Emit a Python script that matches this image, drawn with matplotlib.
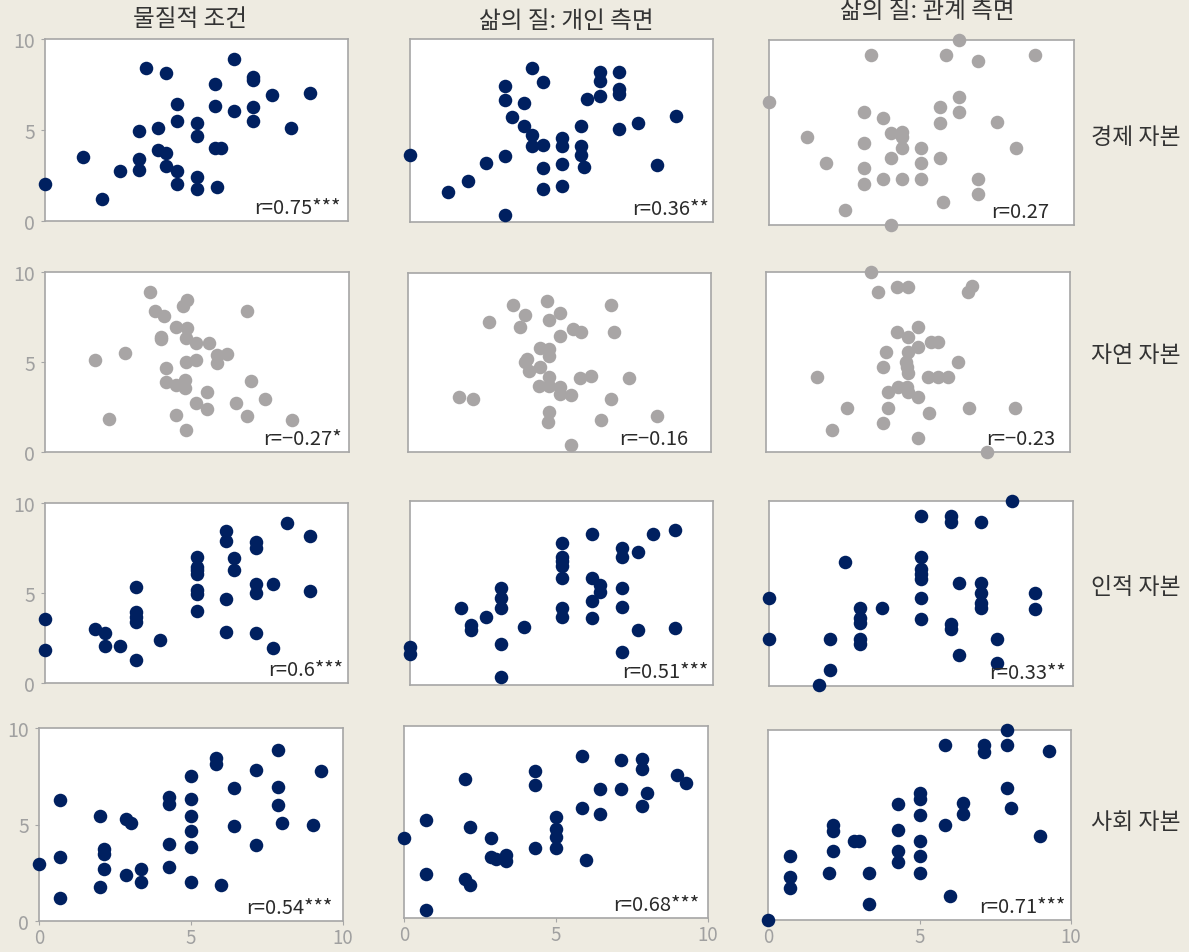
import matplotlib.pyplot as plt

plt.rcParams['font.family'] = ['Noto Sans CJK KR', 'DejaVu Sans']

col_titles = ['물질적 조건', '삶의 질: 개인 측면', '삶의 질: 관계 측면']
row_titles = ['경제 자본', '자연 자본', '인적 자본', '사회 자본']
r_labels = [['r=0.75***', 'r=0.36**', 'r=0.27'],
            ['r=\u22120.27*', 'r=\u22120.16', 'r=\u22120.23'],
            ['r=0.6***', 'r=0.51***', 'r=0.33**'],
            ['r=0.54***', 'r=0.68***', 'r=0.71***']]
significant = [[True, True, False],
               [False, False, False],
               [True, True, True],
               [True, True, True]]

# 경제 자본
econ_material_x = [0, 1.25, 1.87, 2.49, 3.11, 3.11, 3.11, 3.32, 3.74, 3.74, 3.98, 4.0, 3.98, 4.37, 4.37, 4.37, 4.37,
                   5.0, 5.0, 5.0, 5.0, 5.62, 5.62, 5.62, 5.81, 5.69, 6.24, 6.24, 6.87, 6.87, 6.87, 6.87, 7.48, 8.11, 8.74]
econ_material_y = [2.02, 3.54, 1.23, 2.72, 4.95, 3.39, 2.81, 8.4, 5.12, 3.91, 8.15, 3.74, 3.01, 6.42, 5.47, 2.75, 2.04,
                   5.36, 4.68, 2.44, 1.78, 7.52, 6.33, 4.0, 4.0, 1.89, 8.9, 6.06, 7.89, 7.76, 6.26, 5.5, 6.92, 5.12, 7.01]
econ_personal_x = [0, 1.27, 1.9, 2.52, 3.15, 3.15, 3.15, 3.15, 3.36, 3.77, 3.77, 4.02, 4.02, 4.02, 4.39, 4.39, 4.39, 4.39,
                   5.03, 5.03, 5.03, 5.03, 5.64, 5.64, 5.64, 5.73, 5.85, 6.27, 6.27, 6.27, 6.9, 6.9, 6.9, 6.9, 7.54, 8.15, 8.78]
econ_personal_y = [3.64, 1.64, 2.22, 3.24, 7.42, 6.69, 3.6, 0.4, 5.73, 6.51, 5.24, 8.4, 4.76, 4.15, 7.67, 4.22, 2.96, 1.82,
                   4.6, 4.15, 3.15, 1.98, 5.24, 4.18, 3.67, 3.0, 6.73, 8.22, 7.73, 6.91, 8.22, 7.27, 7.0, 5.09, 5.4, 3.09, 5.78]
econ_relation_x = [0, 1.25, 1.87, 2.5, 3.11, 3.11, 3.11, 3.11, 3.33, 3.74, 3.74, 3.99, 3.99, 3.99, 4.37, 4.37, 4.37, 4.37,
                   4.99, 4.99, 4.99, 5.62, 5.62, 5.62, 5.71, 5.81, 6.23, 6.23, 6.23, 6.85, 6.85, 6.85, 7.48, 8.11, 8.73]
econ_relation_y = [6.67, 4.73, 3.33, 0.83, 6.12, 4.42, 3.06, 2.23, 9.17, 5.81, 2.48, 5.0, 3.6, 0.0, 5.04, 4.73, 4.15, 2.48,
                   4.15, 3.33, 2.48, 6.38, 5.54, 3.6, 1.26, 9.17, 10.0, 6.92, 6.12, 8.87, 2.48, 1.67, 5.58, 4.15, 9.17]

# 자연 자본
nature_material_x = [1.66, 2.12, 2.64, 3.44, 3.63, 3.9, 3.82, 3.82, 3.98, 3.98, 4.31, 4.31, 4.31, 4.54, 4.67, 4.67, 4.65, 4.59,
                     4.59, 4.65, 4.65, 4.98, 4.98, 4.98, 5.34, 5.34, 5.4, 5.65, 5.65, 5.98, 6.28, 6.63, 6.63, 6.77, 7.23, 8.14]
nature_material_y = [5.11, 1.86, 5.48, 8.88, 7.81, 7.53, 6.41, 6.26, 4.65, 3.87, 6.97, 3.72, 2.04, 8.12, 8.42, 6.91, 6.36, 4.0,
                     3.53, 4.98, 1.21, 6.04, 5.11, 2.75, 3.35, 2.38, 6.04, 5.39, 4.93, 5.45, 2.75, 7.86, 2.0, 3.94, 2.97, 1.77]
nature_personal_x = [1.67, 2.15, 2.67, 3.47, 3.86, 3.68, 3.93, 3.87, 4.0, 4.35, 4.35, 4.33, 4.59, 4.66, 4.66, 4.66, 4.66, 4.64,
                     4.66, 4.62, 5.0, 5.0, 5.0, 5.0, 5.38, 5.38, 5.43, 5.71, 5.67, 6.04, 6.36, 6.69, 6.8, 6.69, 7.3, 8.23]
nature_personal_y = [3.07, 2.97, 7.25, 8.22, 7.66, 7.01, 5.2, 5.02, 4.55, 5.8, 4.74, 3.66, 8.42, 7.38, 5.76, 5.39, 4.18, 3.66,
                     2.23, 1.67, 7.75, 6.47, 3.62, 3.25, 3.16, 0.41, 6.88, 6.69, 4.14, 4.22, 1.8, 8.22, 6.73, 2.97, 4.14, 1.99]
nature_relation_x = [3.45, 3.67, 4.32, 4.66, 6.63, 6.77, 4.32, 4.99, 4.68, 5.42, 5.67, 3.95, 4.68, 4.99, 3.84, 4.6, 4.63, 4.66, 6.33,
                     1.67, 5.34, 5.67, 6.0, 4.0, 4.33, 4.63, 4.68, 4.99, 2.68, 4.0, 6.68, 8.19, 5.36, 3.84, 2.16, 4.99, 7.28]
nature_relation_y = [10.0, 8.91, 9.17, 9.17, 8.91, 9.23, 6.68, 6.96, 6.37, 6.13, 6.13, 5.57, 5.57, 5.81, 4.74, 5.02, 4.7, 4.39, 4.98,
                     4.15, 4.15, 4.15, 4.15, 3.32, 3.63, 3.63, 3.32, 3.04, 2.45, 2.45, 2.45, 2.45, 2.18, 1.62, 1.2, 0.79, 0.0]

# 인적 자본
human_material_x = [0, 0, 1.66, 1.99, 1.99, 2.49, 2.99, 2.99, 2.99, 2.99, 2.99, 3.78, 5.0, 5.0, 5.0, 5.0, 5.0, 5.0,
                    5.0, 5.99, 5.99, 5.99, 5.99, 6.24, 6.24, 6.98, 6.98, 6.98, 6.98, 6.98, 7.51, 7.51, 8.0, 8.76, 8.76]
human_material_y = [3.56, 1.84, 3.0, 2.76, 2.06, 2.06, 5.36, 3.93, 3.65, 3.38, 1.28, 2.41, 6.99, 6.47, 6.29, 6.07, 5.14, 4.95,
                    3.99, 8.44, 7.88, 4.68, 2.86, 6.94, 6.29, 7.83, 7.51, 5.51, 4.99, 2.78, 5.51, 1.93, 8.89, 8.14, 5.1]
human_personal_x = [0, 0, 1.68, 2.01, 2.01, 2.51, 3.0, 3.0, 3.0, 3.0, 3.0, 3.77, 5.02, 5.02, 5.02, 5.02, 5.02, 5.02,
                    5.02, 6.02, 6.02, 6.26, 6.26, 6.02, 6.02, 7.01, 7.01, 7.53, 7.01, 7.01, 7.01, 7.51, 8.02, 8.76, 8.76]
human_personal_y = [2.04, 1.67, 4.18, 3.27, 2.98, 3.67, 5.27, 4.73, 4.16, 2.25, 0.44, 3.16, 7.71, 6.95, 6.76, 6.49, 5.8, 4.16,
                    3.67, 8.22, 5.8, 5.45, 5.04, 4.58, 3.62, 7.45, 6.98, 7.25, 5.25, 4.22, 1.82, 3.0, 8.22, 8.44, 3.09]
human_relation_x = [0, 0, 1.65, 2.0, 2.0, 2.49, 2.99, 2.99, 2.99, 2.99, 2.99, 3.73, 5.0, 5.0, 5.0, 5.0, 5.0, 5.0,
                    5.0, 6.0, 6.0, 6.0, 6.0, 6.24, 6.24, 6.99, 6.99, 6.99, 6.99, 6.99, 7.5, 7.5, 8.0, 8.74, 8.74]
human_relation_y = [4.74, 2.52, 0.04, 2.52, 0.85, 6.7, 4.2, 3.69, 3.42, 2.56, 2.25, 4.2, 9.19, 6.97, 6.31, 6.04, 5.8, 4.74,
                    3.6, 9.19, 8.88, 3.33, 3.06, 5.55, 1.68, 8.88, 5.59, 5.01, 4.5, 4.23, 2.52, 1.26, 10.0, 5.01, 4.18]

# 사회 자본
social_material_x = [0, 0.7, 0.7, 0.7, 2.0, 2.14, 2.14, 2.14, 2.0, 2.85, 3.01, 2.85, 3.34, 3.34, 4.29, 4.29, 4.29, 4.29, 4.99,
                     4.99, 4.99, 4.99, 4.99, 4.99, 5.82, 5.82, 5.98, 6.43, 6.43, 7.13, 7.13, 7.85, 7.85, 7.85, 8.0, 9.0, 9.27]
social_material_y = [2.94, 6.26, 3.32, 1.18, 5.45, 3.75, 3.46, 2.72, 1.76, 5.31, 5.07, 2.37, 2.68, 2.02, 6.4, 6.06, 3.98, 2.8, 7.49,
                     6.31, 5.45, 4.64, 3.86, 2.02, 8.43, 8.13, 1.87, 6.89, 4.9, 7.84, 3.94, 8.86, 6.96, 6.02, 5.1, 4.97, 7.75]
social_personal_x = [0, 0.71, 0.71, 0.71, 2.0, 2.16, 2.0, 2.16, 2.85, 2.85, 3.02, 3.34, 3.34, 4.3, 4.3, 4.3, 5.0,
                     5.0, 5.0, 5.0, 5.85, 5.85, 6.0, 6.44, 6.44, 7.15, 7.15, 7.84, 7.84, 7.84, 8.0, 8.99, 9.29]
social_personal_y = [4.19, 5.1, 2.29, 0.43, 7.26, 4.75, 2.03, 1.73, 4.19, 3.19, 3.07, 3.28, 2.98, 7.66, 6.93, 3.64, 5.27,
                     4.63, 4.23, 3.67, 8.44, 5.75, 3.03, 6.71, 5.44, 8.23, 6.74, 8.27, 7.75, 5.81, 6.5, 7.44, 7.02]
social_relation_x = [0, 0.71, 0.71, 0.71, 2.0, 2.14, 2.14, 2.14, 2.85, 3.01, 3.34, 3.34, 4.29, 4.29, 4.29, 4.29, 5.0, 5.0,
                     5.0, 5.0, 5.0, 5.0, 5.85, 5.85, 6.01, 6.43, 6.43, 7.14, 7.14, 7.88, 7.88, 7.88, 8.01, 8.98, 9.29]
social_relation_y = [0, 3.38, 2.24, 1.66, 2.5, 4.99, 4.69, 3.64, 4.17, 4.17, 2.5, 0.84, 6.09, 4.73, 3.64, 3.06, 6.71, 6.36,
                     5.53, 4.17, 3.35, 2.5, 9.19, 4.99, 1.24, 6.15, 5.57, 9.19, 8.86, 10.0, 9.19, 6.94, 5.87, 4.43, 8.9]

panels = [[(econ_material_x, econ_material_y), (econ_personal_x, econ_personal_y), (econ_relation_x, econ_relation_y)],
          [(nature_material_x, nature_material_y), (nature_personal_x, nature_personal_y), (nature_relation_x, nature_relation_y)],
          [(human_material_x, human_material_y), (human_personal_x, human_personal_y), (human_relation_x, human_relation_y)],
          [(social_material_x, social_material_y), (social_personal_x, social_personal_y), (social_relation_x, social_relation_y)]]

# panel boxes in pixels: left, top, right, bottom
boxes = [[(45, 40, 348, 222), (410, 40, 713, 223), (769, 41, 1074, 226)],
         [(45, 273, 349, 453), (408, 274, 711, 453), (766, 273, 1070, 453)],
         [(45, 504, 348, 684), (410, 502, 713, 686), (769, 502, 1073, 687)],
         [(39, 729, 343, 922), (404, 727, 708, 919), (768, 731, 1071, 921)]]
label_xpos = [[0.975, 0.985, 0.92], [0.975, 0.925, 0.95], [0.985, 0.985, 0.975], [0.965, 0.97, 0.98]]

W, H = 1189, 953
bg = '#EEEBE1'
navy = '#002060'
grey = '#A8A5A5'

fig = plt.figure(figsize=(W / 100, H / 100), dpi=100, facecolor=bg)

for i in range(4):
    for j in range(3):
        l, t, r, b = boxes[i][j]
        ax = fig.add_axes([l / W, 1 - b / H, (r - l) / W, (b - t) / H])
        ax.set_facecolor('white')
        xs, ys = panels[i][j]
        ax.scatter(xs, ys, s=95, color=navy if significant[i][j] else grey,
                   linewidths=0, clip_on=False, zorder=5)
        ax.set_xlim(0, 10)
        ax.set_ylim(0, 10)
        for sp in ax.spines.values():
            sp.set_color('#A6A6A6')
            sp.set_linewidth(1.2)
        ax.set_xticks([0, 5, 10])
        ax.set_yticks([0, 5, 10])
        ax.tick_params(colors='#A6A6A6', labelcolor='#A0A0A0', labelsize=14, length=3, pad=4)
        if j != 0:
            ax.tick_params(axis='y', left=False, labelleft=False)
        if i != 3:
            ax.tick_params(axis='x', bottom=False, labelbottom=False)
        else:
            ax.tick_params(axis='x', pad=1, labelsize=13.5)
        ax.text(label_xpos[i][j], 0.015, r_labels[i][j], transform=ax.transAxes,
                ha='right', va='bottom', fontsize=14.5, color='#2A2A2A', zorder=6)

title_pos = [(190, 19), (566, 21), (927, 12)]
for (x, y), txt in zip(title_pos, col_titles):
    fig.text(x / W, 1 - y / H, txt, ha='center', va='center', fontsize=17, color='#333333')

row_pos = [137, 356, 588, 823]
for y, txt in zip(row_pos, row_titles):
    fig.text(1136 / W, 1 - y / H, txt, ha='center', va='center', fontsize=16.5, color='#333333')

fig.savefig('out.png', dpi=100, facecolor=bg)
